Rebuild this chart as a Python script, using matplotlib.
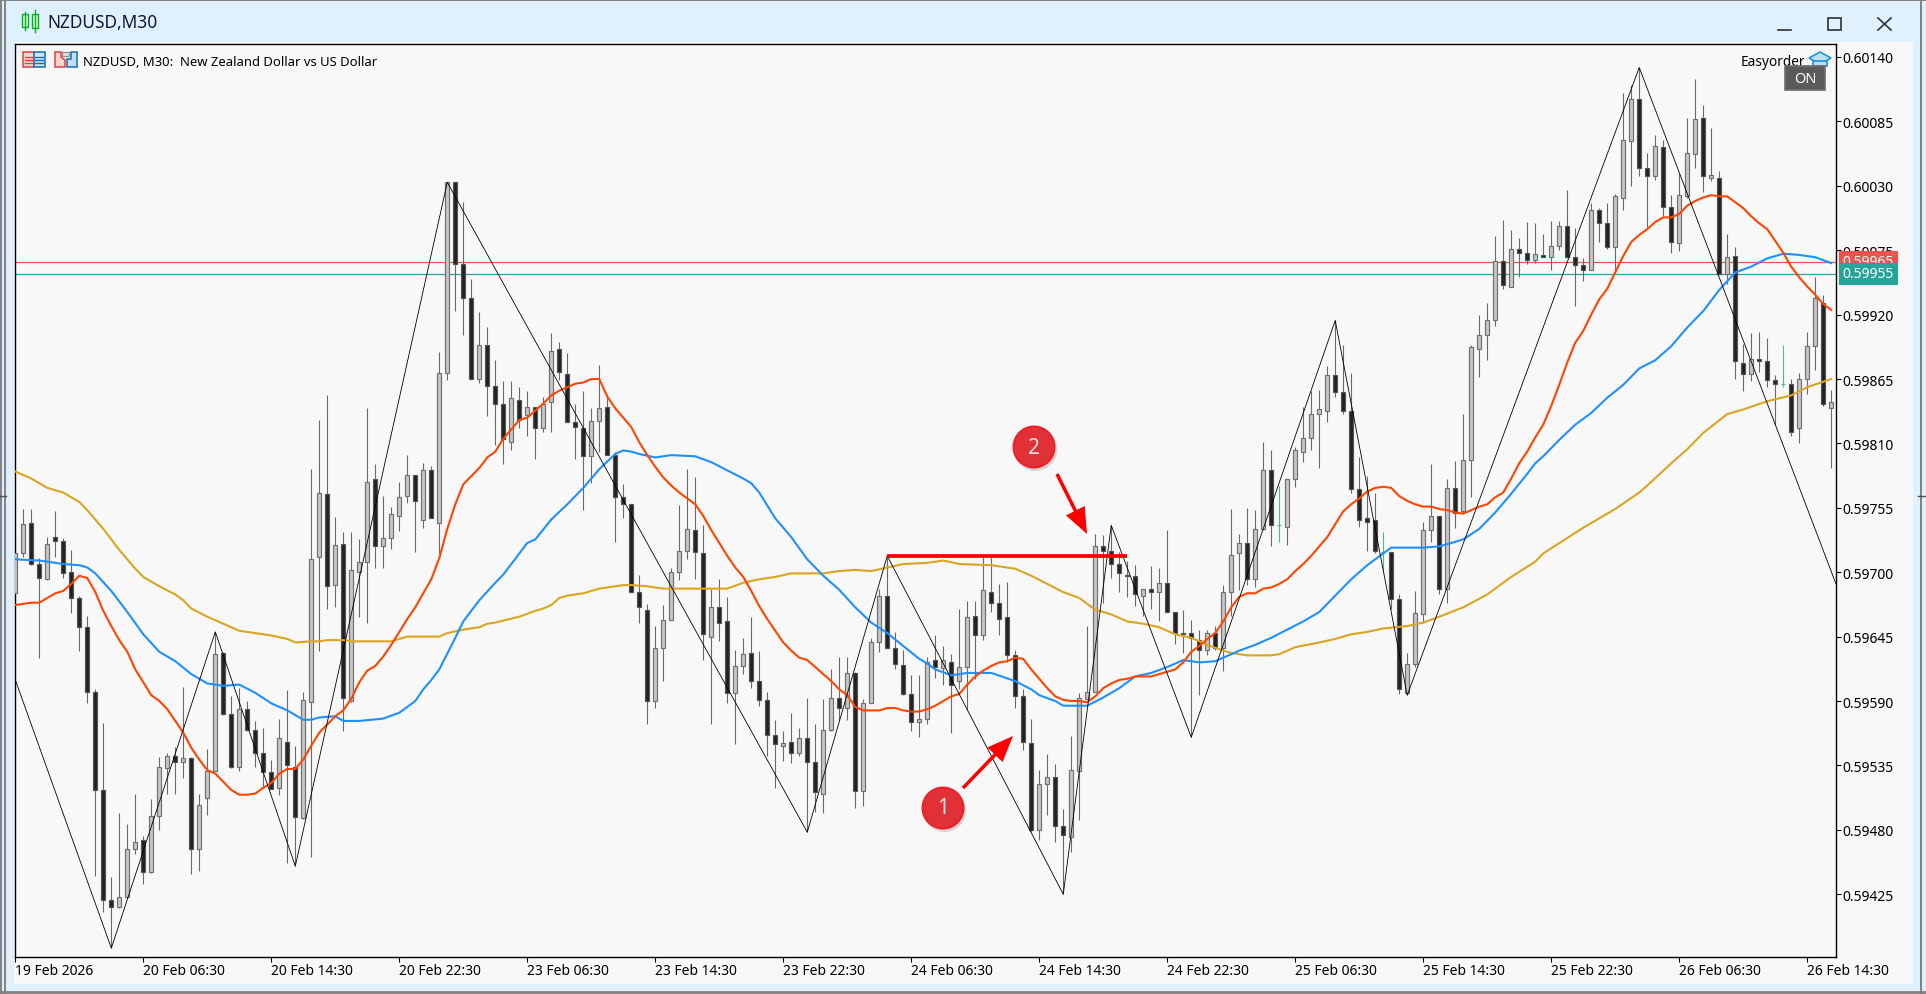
import numpy as np
import matplotlib

matplotlib.use("Agg")
import matplotlib.pyplot as plt
from matplotlib.patches import Circle, Polygon, Rectangle

# all prices below are in points (1 point = 0.00001)
opens = [
    59682, 59716, 59742, 59707, 59694, 59730, 59727, 59700, 59678, 59653,
    59598, 59514, 59420, 59414, 59423, 59464, 59471, 59444, 59492, 59533,
    59543, 59538, 59541, 59464, 59507, 59530, 59631, 59579, 59534, 59583,
    59565, 59546, 59529, 59516, 59555, 59534, 59490, 59589, 59713, 59767,
    59689, 59724, 59590, 59700, 59709, 59780, 59722, 59729, 59748, 59765,
    59783, 59745, 59787, 59742, 59870, 60033, 59963, 59934, 59865, 59894,
    59859, 59844, 59811, 59847, 59834, 59841, 59823, 59845, 59891, 59869,
    59828, 59823, 59799, 59829, 59841, 59800, 59764, 59758, 59683, 59668,
    59590, 59635, 59659, 59700, 59718, 59736, 59716, 59645, 59670, 59658,
    59597, 59620, 59631, 59607, 59591, 59561, 59552, 59555, 59546, 59558,
    59538, 59511, 59565, 59593, 59584, 59614, 59513, 59588, 59640, 59680,
    59635, 59621, 59596, 59572, 59575, 59625, 59618, 59623, 59607, 59619,
    59663, 59646, 59683, 59674, 59662, 59629, 59594, 59554, 59480, 59519,
    59525, 59483, 59474, 59530, 59592, 59598, 59722, 59718, 59707, 59698,
    59697, 59680, 59686, 59683, 59691, 59666, 59648, 59648, 59642, 59634,
    59648, 59635, 59683, 59716, 59725, 59694, 59737, 59787, 59740, 59739,
    59780, 59803, 59815, 59835, 59838, 59868, 59854, 59838, 59771, 59746,
    59745, 59717, 59717, 59677, 59597, 59622, 59664, 59736, 59748, 59686,
    59772, 59752, 59796, 59891, 59903, 59915, 59966, 59944, 59976, 59973,
    59967, 59971, 59969, 59979, 59996, 59969, 59962, 59958, 60009, 59998,
    59978, 60020, 60068, 60104, 60045, 60038, 60063, 60012, 59981, 60021,
    60057, 60088, 60037, 60037, 59955, 59970, 59879, 59869, 59882, 59880,
    59864, 59861, 59861, 59823, 59865, 59893, 59930, 59840,
]
highs = [
    59734, 59754, 59754, 59712, 59730, 59752, 59729, 59719, 59680, 59663,
    59600, 59571, 59440, 59494, 59485, 59511, 59475, 59506, 59542, 59546,
    59551, 59602, 59542, 59511, 59549, 59649, 59632, 59594, 59601, 59590,
    59573, 59567, 59540, 59575, 59599, 59552, 59598, 59788, 59830, 59851,
    59747, 59734, 59734, 59728, 59840, 59792, 59765, 59756, 59777, 59800,
    59783, 59793, 59791, 59888, 60033, 60033, 60016, 59950, 59922, 59909,
    59881, 59863, 59863, 59858, 59855, 59841, 59850, 59904, 59897, 59887,
    59844, 59855, 59840, 59877, 59850, 59803, 59775, 59758, 59698, 59673,
    59654, 59672, 59704, 59757, 59788, 59781, 59740, 59686, 59694, 59679,
    59634, 59644, 59662, 59633, 59598, 59574, 59564, 59580, 59567, 59593,
    59570, 59592, 59617, 59628, 59628, 59615, 59592, 59644, 59686, 59714,
    59649, 59634, 59612, 59612, 59628, 59646, 59637, 59630, 59669, 59675,
    59675, 59713, 59713, 59690, 59692, 59634, 59600, 59575, 59531, 59545,
    59536, 59498, 59560, 59597, 59654, 59733, 59732, 59740, 59717, 59710,
    59706, 59686, 59705, 59704, 59736, 59666, 59668, 59659, 59651, 59651,
    59654, 59689, 59754, 59733, 59755, 59753, 59811, 59804, 59774, 59780,
    59807, 59841, 59855, 59856, 59876, 59915, 59894, 59870, 59798, 59782,
    59768, 59734, 59717, 59681, 59631, 59684, 59743, 59792, 59748, 59780,
    59795, 59835, 59894, 59920, 59930, 59987, 60001, 59992, 59985, 59999,
    59998, 59989, 60000, 60000, 60026, 59994, 59968, 60015, 60011, 60015,
    60023, 60109, 60116, 60131, 60058, 60073, 60069, 60022, 60040, 60088,
    60121, 60099, 60079, 60043, 59989, 59978, 59895, 59904, 59905, 59900,
    59868, 59894, 59865, 59870, 59905, 59952, 59937, 59856,
]
lows = [
    59674, 59713, 59706, 59627, 59693, 59713, 59695, 59665, 59633, 59588,
    59441, 59410, 59379, 59413, 59422, 59459, 59434, 59443, 59480, 59511,
    59511, 59524, 59442, 59445, 59493, 59530, 59578, 59533, 59530, 59564,
    59534, 59516, 59515, 59510, 59452, 59449, 59489, 59457, 59633, 59669,
    59670, 59564, 59589, 59662, 59657, 59704, 59704, 59720, 59735, 59759,
    59717, 59738, 59746, 59716, 59864, 59923, 59903, 59865, 59862, 59833,
    59809, 59792, 59804, 59823, 59816, 59797, 59820, 59820, 59864, 59828,
    59797, 59753, 59776, 59803, 59800, 59726, 59746, 59683, 59657, 59570,
    59584, 59607, 59659, 59693, 59711, 59694, 59625, 59570, 59641, 59588,
    59553, 59613, 59601, 59586, 59543, 59516, 59539, 59537, 59543, 59478,
    59495, 59494, 59564, 59574, 59574, 59499, 59500, 59588, 59632, 59635,
    59617, 59595, 59564, 59559, 59570, 59610, 59604, 59563, 59600, 59582,
    59609, 59642, 59666, 59646, 59623, 59584, 59548, 59478, 59471, 59493,
    59470, 59425, 59461, 59488, 59592, 59598, 59674, 59695, 59683, 59679,
    59671, 59663, 59669, 59658, 59666, 59639, 59631, 59559, 59595, 59629,
    59634, 59616, 59663, 59685, 59689, 59687, 59736, 59722, 59726, 59723,
    59773, 59794, 59804, 59789, 59828, 59850, 59835, 59768, 59739, 59718,
    59716, 59700, 59669, 59596, 59595, 59619, 59657, 59726, 59681, 59674,
    59738, 59751, 59764, 59867, 59881, 59910, 59942, 59944, 59952, 59963,
    59964, 59969, 59958, 59975, 59968, 59927, 59949, 59958, 59982, 59976,
    59956, 60009, 60030, 60038, 59995, 60035, 60004, 59973, 59974, 60020,
    60045, 60025, 60034, 59955, 59946, 59865, 59855, 59863, 59871, 59858,
    59826, 59858, 59816, 59810, 59852, 59873, 59842, 59789,
]
closes = [
    59716, 59741, 59707, 59695, 59724, 59727, 59699, 59678, 59653, 59598,
    59514, 59420, 59414, 59423, 59464, 59470, 59444, 59492, 59534, 59543,
    59538, 59541, 59464, 59501, 59530, 59630, 59579, 59534, 59583, 59565,
    59546, 59529, 59515, 59558, 59535, 59491, 59591, 59711, 59768, 59688,
    59723, 59593, 59702, 59709, 59777, 59722, 59729, 59750, 59764, 59783,
    59761, 59787, 59746, 59870, 60033, 59963, 59934, 59865, 59894, 59859,
    59844, 59814, 59849, 59830, 59841, 59823, 59844, 59889, 59871, 59828,
    59824, 59799, 59829, 59840, 59800, 59764, 59758, 59683, 59670, 59590,
    59635, 59659, 59700, 59718, 59737, 59717, 59647, 59670, 59657, 59597,
    59620, 59630, 59607, 59591, 59561, 59553, 59554, 59546, 59558, 59538,
    59512, 59565, 59593, 59584, 59614, 59513, 59588, 59640, 59680, 59635,
    59622, 59596, 59572, 59575, 59623, 59619, 59625, 59604, 59619, 59662,
    59646, 59685, 59674, 59660, 59629, 59594, 59555, 59480, 59519, 59525,
    59483, 59476, 59531, 59593, 59598, 59722, 59718, 59707, 59699, 59697,
    59681, 59686, 59683, 59691, 59666, 59648, 59647, 59644, 59634, 59648,
    59635, 59683, 59715, 59725, 59694, 59737, 59787, 59740, 59740, 59780,
    59804, 59815, 59835, 59839, 59868, 59854, 59838, 59771, 59745, 59743,
    59718, 59717, 59677, 59600, 59622, 59665, 59736, 59748, 59686, 59772,
    59751, 59796, 59892, 59903, 59915, 59966, 59945, 59976, 59973, 59967,
    59972, 59969, 59979, 59996, 59969, 59962, 59958, 60009, 59998, 59978,
    60021, 60069, 60104, 60045, 60038, 60064, 60012, 59982, 60022, 60058,
    60087, 60038, 60039, 59955, 59969, 59880, 59869, 59882, 59880, 59864,
    59861, 59861, 59820, 59865, 59893, 59934, 59844, 59845,
]

# fast moving average, one value per bar
ma_red = [
    59672, 59673, 59674, 59674, 59678, 59682, 59684, 59690, 59697, 59695,
    59683, 59667, 59654, 59642, 59632, 59617, 59606, 59595, 59590, 59583,
    59573, 59563, 59550, 59540, 59531, 59528, 59521, 59514, 59510, 59510,
    59511, 59516, 59520, 59528, 59532, 59532, 59540, 59552, 59563, 59570,
    59577, 59582, 59592, 59606, 59616, 59620, 59628, 59638, 59649, 59660,
    59670, 59682, 59694, 59712, 59737, 59758, 59775, 59782, 59789, 59798,
    59803, 59814, 59822, 59830, 59832, 59838, 59844, 59851, 59855, 59858,
    59861, 59862, 59865, 59865, 59850, 59840, 59832, 59824, 59811, 59800,
    59790, 59781, 59774, 59768, 59763, 59758, 59748, 59736, 59725, 59714,
    59704, 59696, 59684, 59671, 59660, 59650, 59640, 59633, 59627, 59625,
    59619, 59613, 59607, 59600, 59595, 59585, 59582, 59582, 59582, 59584,
    59584, 59582, 59581, 59581, 59583, 59586, 59590, 59594, 59596, 59604,
    59611, 59616, 59620, 59623, 59624, 59627, 59626, 59617, 59609, 59601,
    59594, 59591, 59590, 59590, 59589, 59594, 59601, 59605, 59608, 59609,
    59611, 59611, 59611, 59613, 59615, 59617, 59623, 59632, 59637, 59643,
    59648, 59658, 59670, 59679, 59682, 59682, 59686, 59687, 59690, 59694,
    59701, 59707, 59714, 59722, 59730, 59741, 59752, 59758, 59763, 59769,
    59772, 59773, 59772, 59765, 59761, 59758, 59756, 59756, 59754, 59753,
    59751, 59750, 59753, 59756, 59758, 59764, 59768, 59780, 59793, 59803,
    59815, 59826, 59842, 59860, 59879, 59896, 59906, 59920, 59933, 59942,
    59956, 59970, 59982, 59988, 59993, 59999, 60003, 60003, 60006, 60013,
    60017, 60020, 60022, 60021, 60021, 60016, 60011, 60004, 59998, 59993,
    59983, 59973, 59961, 59952, 59944, 59937, 59929, 59924,
]

# medium and slow averages, read at the bars listed
ma_blue_bars = [
    0, 3, 6, 8, 9, 10, 12, 14, 16, 18, 20, 22, 24, 26, 28, 30, 32, 34, 36, 37,
    38, 40, 41, 43, 46, 48, 50, 51, 52, 53, 55, 56, 58, 60, 61, 62, 64, 65, 67,
    69, 71, 73, 75, 76, 77, 78, 80, 82, 85, 87, 89, 91, 92, 93, 95, 97, 99, 101,
    103, 105, 107, 109, 111, 113, 114, 115, 117, 119, 122, 125, 127, 128, 130,
    131, 134, 136, 138, 140, 142, 144, 146, 148, 150, 152, 153, 155, 157, 159,
    161, 163, 165, 167, 169, 171, 172, 176, 178, 180, 181, 183, 185, 187, 189,
    190, 191, 193, 195, 197, 199, 201, 203, 205, 207, 209, 211, 213, 215, 217,
    219, 221, 223, 225, 227,
]
ma_blue = [
    59711, 59710, 59707, 59706, 59704, 59699, 59684, 59666, 59647, 59632, 59624,
    59613, 59605, 59603, 59604, 59597, 59588, 59582, 59574, 59574, 59576, 59577,
    59573, 59573, 59575, 59580, 59590, 59600, 59608, 59617, 59644, 59658, 59676,
    59691, 59698, 59707, 59725, 59728, 59745, 59758, 59772, 59788, 59801, 59804,
    59803, 59801, 59798, 59800, 59799, 59794, 59787, 59780, 59776, 59768, 59746,
    59730, 59711, 59697, 59685, 59670, 59657, 59648, 59637, 59626, 59622, 59617,
    59612, 59614, 59614, 59607, 59600, 59595, 59590, 59586, 59586, 59593, 59601,
    59611, 59614, 59619, 59625, 59623, 59624, 59630, 59633, 59638, 59644, 59651,
    59658, 59666, 59680, 59694, 59706, 59716, 59721, 59721, 59722, 59726, 59728,
    59737, 59751, 59767, 59784, 59793, 59799, 59813, 59826, 59836, 59849, 59860,
    59874, 59881, 59893, 59909, 59923, 59941, 59956, 59961, 59968, 59972, 59971,
    59969, 59964,
]
ma_gold_bars = [
    0, 1, 2, 4, 6, 8, 9, 10, 11, 12, 13, 14, 15, 16, 17, 18, 20, 21, 22, 24, 25,
    27, 28, 30, 32, 34, 35, 37, 38, 39, 41, 42, 47, 49, 52, 53, 54, 56, 58, 59,
    60, 63, 65, 66, 67, 68, 69, 71, 73, 75, 76, 77, 79, 81, 85, 89, 91, 93, 95,
    97, 101, 103, 105, 107, 109, 111, 114, 115, 116, 118, 122, 125, 127, 129,
    131, 133, 135, 137, 139, 141, 143, 145, 147, 149, 151, 152, 153, 154, 157,
    158, 160, 163, 165, 167, 169, 171, 174, 176, 178, 181, 184, 187, 190, 191,
    196, 200, 203, 204, 207, 209, 211, 214, 216, 219, 222, 224, 227,
]
ma_gold = [
    59786, 59783, 59780, 59772, 59768, 59760, 59753, 59745, 59737, 59728, 59719,
    59711, 59703, 59696, 59692, 59688, 59681, 59676, 59669, 59662, 59659, 59653,
    59650, 59648, 59646, 59643, 59640, 59641, 59641, 59642, 59642, 59641, 59641,
    59645, 59645, 59645, 59648, 59651, 59653, 59656, 59657, 59662, 59667, 59669,
    59672, 59678, 59680, 59682, 59686, 59688, 59689, 59689, 59688, 59686, 59686,
    59686, 59691, 59694, 59696, 59699, 59699, 59701, 59702, 59701, 59704, 59707,
    59708, 59709, 59710, 59707, 59706, 59703, 59697, 59690, 59683, 59678, 59668,
    59664, 59658, 59656, 59653, 59647, 59644, 59638, 59633, 59631, 59630, 59629,
    59629, 59630, 59636, 59640, 59643, 59647, 59649, 59652, 59654, 59657, 59662,
    59670, 59681, 59696, 59709, 59716, 59738, 59754, 59768, 59774, 59793, 59805,
    59819, 59835, 59839, 59846, 59851, 59858, 59865,
]

zigzag_bars = [0, 12, 25, 35, 54, 99, 109, 131, 137, 147, 165, 174, 203, 227.6]
zigzag_prices = [
    59608, 59379, 59649, 59449, 60033, 59478, 59714, 59425, 59740, 59559,
    59915, 59595, 60131, 59690,
]

level_bars = [109, 139]
level_price = 59714
ask_price = 59965
bid_price = 59955

price_ticks = [
    60140, 60085, 60030, 59975, 59920, 59865, 59810,
    59755, 59700, 59645, 59590, 59535, 59480, 59425,
]
time_labels = [
    "19 Feb 2026", "20 Feb 06:30", "20 Feb 14:30", "20 Feb 22:30",
    "23 Feb 06:30", "23 Feb 14:30", "23 Feb 22:30", "24 Feb 06:30",
    "24 Feb 14:30", "24 Feb 22:30", "25 Feb 06:30", "25 Feb 14:30",
    "25 Feb 22:30", "26 Feb 06:30", "26 Feb 14:30",
]

FONT = ["Noto Sans", "DejaVu Sans"]
PANEL = "#F8F8F8"
WINDOW = "#DFF0FF"
W, H = 1926, 995


def pixel_axes(fig, zorder):
    # full figure axes where one data unit is one pixel, y going down
    ax = fig.add_axes([0, 0, 1, 1], zorder=zorder)
    ax.set_xlim(0, W)
    ax.set_ylim(H, 0)
    ax.axis("off")
    ax.patch.set_alpha(0)
    return ax


def draw_window(bg, ov):
    bg.add_patch(Rectangle((14, 43), 1899, 942, color=PANEL, lw=0))
    for x in (1, 5, 1921):
        bg.plot([x, x], [0, H], color="#808080", lw=1.4)
    bg.plot([0, W], [1, 1], color="#808080", lw=1.4)
    bg.plot([0, W], [993, 993], color="#808080", lw=2)
    bg.plot([0, 6], [497, 497], color="#505050", lw=1)
    bg.plot([1918, 1926], [497, 497], color="#505050", lw=1)

    # candle icon in the title bar
    green = "#00B020"
    ov.plot([25, 25], [13, 31], color=green, lw=1)
    ov.plot([34.5, 34.5], [11, 33], color=green, lw=1)
    ov.add_patch(Rectangle((22, 15), 6, 13, fc="#D8F5D8", ec=green, lw=1))
    ov.add_patch(Rectangle((32, 15), 5.5, 14, fc="#D8F5D8", ec=green, lw=1))
    ov.text(47.5, 23, "NZDUSD,M30", fontsize=12.5, va="center", color="#101828", family=FONT)

    # window buttons
    dark = "#303030"
    ov.plot([1778, 1791], [31, 31], color=dark, lw=1.2)
    ov.add_patch(Rectangle((1828, 18.5), 13, 12.5, fc="none", ec=dark, lw=1.2))
    ov.plot([1878, 1891], [19, 31], color=dark, lw=1.2)
    ov.plot([1878, 1891], [31, 19], color=dark, lw=1.2)

    # chart header icons
    red, blue = "#E04040", "#1070B8"
    ov.add_patch(Rectangle((23, 53), 11, 15, fc="#FBD5D0", ec=red, lw=1.1))
    ov.add_patch(Rectangle((34, 53), 11, 15, fc="#CFE6F8", ec=blue, lw=1.1))
    for y in (57.5, 60.5, 64):
        ov.plot([25, 33], [y, y], color=red, lw=1)
        ov.plot([35, 43], [y, y], color=blue, lw=1)
    ov.add_patch(Polygon([(55, 53), (61, 53), (61, 58), (65, 61), (65, 68), (55, 68)],
                         fc="#FBD5D0", ec=red, lw=1.1))
    ov.add_patch(Polygon([(71, 53), (76.5, 53), (76.5, 68), (67, 68), (67, 60), (71, 60)],
                         fc="#BFE0F8", ec=blue, lw=1.1))
    ov.add_patch(Rectangle((62, 53), 7, 4, fc="#E8E8E8", ec="#909090", lw=1))
    ov.text(83, 62, "NZDUSD, M30:  New Zealand Dollar vs US Dollar", fontsize=9.4,
            va="center", color="black", family=FONT)

    # expert badge
    ov.text(1741, 62.5, "Easyorder", fontsize=9.8, va="center", color="black", family=FONT)
    ov.add_patch(Polygon([(1809, 59), (1820, 53), (1831, 59), (1820, 65)],
                         fc="#BFE0F8", ec="#2090D8", lw=1.2))
    ov.add_patch(Polygon([(1813, 62), (1827, 62), (1827, 67), (1813, 67)],
                         fc="#BFE0F8", ec="#2090D8", lw=1.2, zorder=1))
    ov.add_patch(Rectangle((1785, 67), 40, 24, fc="#5A5A5A", ec="#6E6E6E", lw=1.2, zorder=3))
    ov.text(1805, 79.5, "ON", fontsize=10.5, ha="center", va="center", color="white",
            family=FONT, zorder=4)


def draw_marker(ov, x, y, label):
    ov.add_patch(Circle((x + 1.5, y + 2.5), 21.5, fc="#909090", ec="none", alpha=0.35, zorder=5))
    ov.add_patch(Circle((x, y), 20.5, fc="#DF3136", ec="#F21C24", lw=1.4, zorder=6))
    ov.text(x, y, label, fontsize=15, fontweight="bold", color="#FCE4E4", ha="center",
            va="center", family=FONT, zorder=7)


def draw_annotations(ov):
    ov.arrow(963, 789, 50, -52, width=3.5, head_width=21, head_length=26,
             length_includes_head=True, fc="#FF0000", ec="none", zorder=5)
    ov.arrow(1057, 475, 30, 60, width=3.5, head_width=21, head_length=26,
             length_includes_head=True, fc="#FF0000", ec="none", zorder=5)
    draw_marker(ov, 943, 809, "1")
    draw_marker(ov, 1034, 448, "2")


def draw_candles(ax):
    o = np.array(opens) / 1e5
    h = np.array(highs) / 1e5
    l = np.array(lows) / 1e5
    c = np.array(closes) / 1e5
    x = np.arange(len(o))
    up = c > o
    down = c < o
    doji = c == o

    ax.vlines(x[~doji], l[~doji], h[~doji], color="#6A6A6A", lw=0.8, zorder=2)
    ax.vlines(x[doji], l[doji], h[doji], color="#50BE82", lw=0.8, zorder=2)
    ax.hlines(c[doji], x[doji] - 0.22, x[doji] + 0.22, color="#50BE82", lw=0.8, zorder=2)
    ax.bar(x[up], (c - o)[up], bottom=o[up], width=0.5, color="#C6C6C6",
           edgecolor="#707070", lw=0.85, zorder=3)
    ax.bar(x[down], (o - c)[down], bottom=c[down], width=0.5, color="#222222",
           edgecolor="#555555", lw=0.85, zorder=3)


def main():
    fig = plt.figure(figsize=(W / 100, H / 100), dpi=100, facecolor=WINDOW)
    bg = pixel_axes(fig, -1)
    ov = pixel_axes(fig, 10)

    ax = fig.add_axes([15 / W, 1 - 958 / H, (1836 - 15) / W, (958 - 45) / H], zorder=1)
    ax.set_facecolor(PANEL)
    ax.set_xlim(-0.04, 227.6)
    ax.set_ylim(0.593714, 0.601511)
    for side in ax.spines.values():
        side.set_linewidth(1.0)

    ax.axhline(ask_price / 1e5, color="#EF5350", lw=0.9, zorder=1)
    ax.axhline(bid_price / 1e5, color="#26A69A", lw=0.9, zorder=1)

    draw_candles(ax)

    ax.plot(ma_gold_bars, np.array(ma_gold) / 1e5, color="#DAA520", lw=1.5, zorder=4)
    ax.plot(ma_blue_bars, np.array(ma_blue) / 1e5, color="#1E90FF", lw=1.5, zorder=4)
    ax.plot(np.arange(len(ma_red)), np.array(ma_red) / 1e5, color="#FF4500", lw=1.5, zorder=4)
    ax.plot(zigzag_bars, np.array(zigzag_prices) / 1e5, color="black", lw=0.6, zorder=5)
    ax.plot(level_bars, [level_price / 1e5] * 2, color="#FF0000", lw=2.7,
            solid_capstyle="butt", zorder=6)

    ax.yaxis.tick_right()
    ax.set_yticks(np.array(price_ticks) / 1e5)
    ax.set_yticklabels([f"{p / 1e5:.5f}" for p in price_ticks], fontsize=10, family=FONT)
    ax.tick_params(axis="y", length=3.6, width=0.8, pad=1)
    ax.set_xticks(np.arange(len(time_labels)) * 16)
    ax.set_xticklabels(time_labels, fontsize=10, ha="left", family=FONT)
    ax.tick_params(axis="x", length=3.6, width=0.8, pad=0.5)

    # current price tags on the axis
    for price, color in ((ask_price, "#EF5350"), (bid_price, "#26A69A")):
        ax.annotate(
            f"{price / 1e5:.5f}",
            xy=(1, price / 1e5),
            xycoords=ax.get_yaxis_transform(),
            xytext=(4.5, 0),
            textcoords="offset points",
            va="center",
            ha="left",
            color="white",
            fontsize=10,
            family=FONT,
            bbox=dict(boxstyle="square,pad=0.22", fc=color, ec=color, lw=0.8),
            zorder=8,
            annotation_clip=False,
        )

    draw_window(bg, ov)
    draw_annotations(ov)

    fig.savefig("out.png", dpi=100, facecolor=fig.get_facecolor())


if __name__ == "__main__":
    main()
